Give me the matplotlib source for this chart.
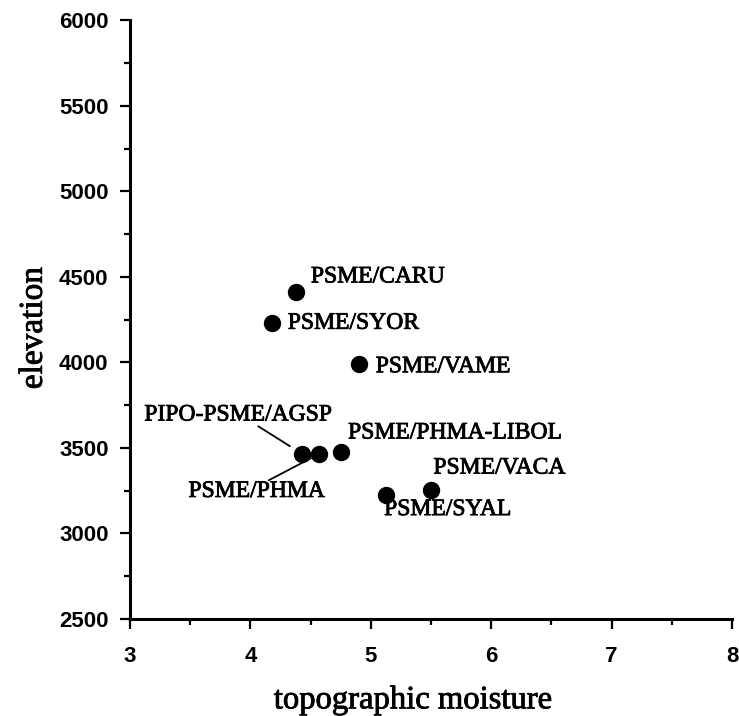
import matplotlib
matplotlib.use('Agg')
import matplotlib.pyplot as plt
import matplotlib.patheffects as pe
from matplotlib.ticker import MultipleLocator

# plant associations: topographic moisture vs elevation
names = ['PSME/CARU', 'PSME/SYOR', 'PSME/VAME', 'PIPO-PSME/AGSP',
         'PSME/PHMA', 'PSME/PHMA-LIBOL', 'PSME/SYAL', 'PSME/VACA']
moisture = [4.38, 4.18, 4.90, 4.43, 4.57, 4.75, 5.13, 5.50]
elevation = [4414, 4229, 3991, 3465, 3465, 3478, 3225, 3254]

# label offsets (points) and alignment for each point
offsets = {
    'PSME/CARU': ((10.6, 10.6), 'left'),
    'PSME/SYOR': ((11.3, 0), 'left'),
    'PSME/VAME': ((12.2, -2), 'left'),
    'PIPO-PSME/AGSP': ((-46, 28), 'center'),
    'PSME/PHMA': ((-45, -27), 'center'),
    'PSME/PHMA-LIBOL': ((5.3, 13.5), 'left'),
    'PSME/SYAL': ((-1.7, -10.5), 'left'),
    'PSME/VACA': ((1.7, 15.8), 'left'),
}
# leader lines for the two crowded labels
leaders = {
    'PIPO-PSME/AGSP': dict(relpos=(0.6, 0.0), shrinkA=1, shrinkB=10.5),
    'PSME/PHMA': dict(relpos=(0.58, 1.0), shrinkA=1, shrinkB=6.5),
}
thick = [pe.withStroke(linewidth=0.6, foreground='black')]

fig = plt.figure(figsize=(7.39, 7.16), dpi=100)
ax = fig.add_axes([0.176, 0.1355, 0.8145, 0.836])

ax.plot(moisture, elevation, 'o', color='black', markersize=11.5, clip_on=False)

for n, x, y in zip(names, moisture, elevation):
    off, ha = offsets[n]
    kw = {}
    if n in leaders:
        kw['arrowprops'] = dict(arrowstyle='-', color='black', lw=1.3,
                                patchA=None, **leaders[n])
    ax.annotate(n, (x, y), xytext=off, textcoords='offset points',
                ha=ha, va='center', fontsize=17, family='Liberation Serif',
                path_effects=thick, **kw)

ax.set_xlim(3, 8)
ax.set_ylim(2500, 6000)
ax.xaxis.set_major_locator(MultipleLocator(1))
ax.xaxis.set_minor_locator(MultipleLocator(0.5))
ax.yaxis.set_major_locator(MultipleLocator(500))
ax.yaxis.set_minor_locator(MultipleLocator(250))

for s in ['top', 'right']:
    ax.spines[s].set_visible(False)
for s in ['left', 'bottom']:
    ax.spines[s].set_linewidth(2.2)

ax.tick_params(which='major', length=7.5, width=1.6, labelsize=16)
ax.tick_params(axis='y', which='major', pad=8)
ax.tick_params(axis='x', which='major', pad=12)
ax.tick_params(which='minor', length=4, width=1.6)
for lab in ax.get_xticklabels() + ax.get_yticklabels():
    lab.set_family('Liberation Sans')
    lab.set_fontweight('bold')

ax.set_xlabel('topographic moisture', fontsize=23.5, family='Liberation Serif',
              path_effects=thick)
ax.set_ylabel('elevation', fontsize=24, family='Liberation Serif',
              path_effects=thick)
ax.xaxis.set_label_coords(0.47, -0.11)
ax.yaxis.set_label_coords(-0.135, 0.486)

fig.savefig('out.png', dpi=100)
